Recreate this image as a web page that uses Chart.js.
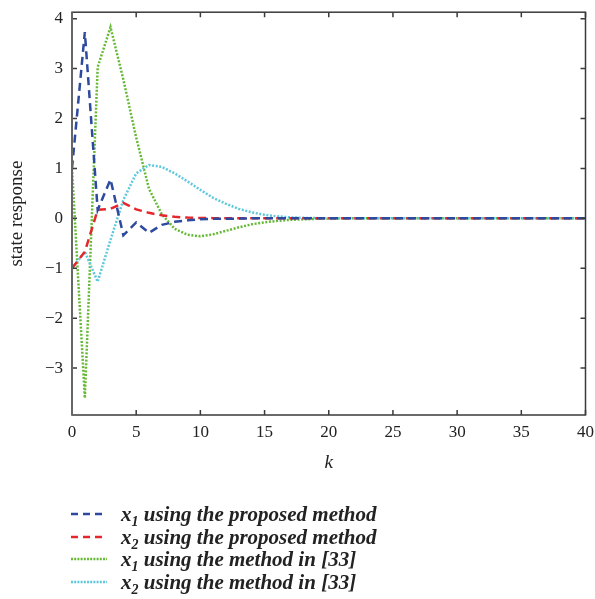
<!DOCTYPE html>
<html>
<head>
<meta charset="utf-8">
<script src="https://cdn.jsdelivr.net/npm/chart.js@4.4.1/dist/chart.umd.min.js"></script>
<style>
  html, body { margin: 0; padding: 0; background: #fff; width: 595px; height: 599px; overflow: hidden; }
  #c { position: absolute; left: 0; top: -7px; }
  #legend { position: absolute; left: 0; top: 0; width: 595px; height: 599px; pointer-events: none; }
  .row { position: absolute; left: 0; height: 24px; width: 595px; }
  .row svg { position: absolute; left: 70px; top: 0; }
  .row span { position: absolute; left: 121px; top: 0; line-height: 24px;
    font-family: "Liberation Serif", "DejaVu Serif", serif; font-style: italic; font-weight: bold;
    font-size: 21px; color: #222; white-space: nowrap; }
  .row sub { font-size: 14px; vertical-align: -5px; line-height: 0; }
</style>
</head>
<body>
<canvas id="c" width="601" height="487"></canvas>
<div id="legend"></div>
<script>
// ---- data ----
const K = Array.from({length: 41}, (_, i) => i);
const x1Proposed = [1.0, 3.73, 0.17, 0.78, -0.34, -0.08, -0.29, -0.13, -0.07, -0.04, -0.02, -0.01, -0.01, -0.005, 0, 0, 0, 0, 0, 0, 0, 0, 0, 0, 0, 0, 0, 0, 0, 0, 0, 0, 0, 0, 0, 0, 0, 0, 0, 0, 0];
const x2Proposed = [-1.0, -0.67, 0.17, 0.19, 0.31, 0.18, 0.11, 0.06, 0.03, 0.015, 0.008, 0.004, 0.002, 0, 0, 0, 0, 0, 0, 0, 0, 0, 0, 0, 0, 0, 0, 0, 0, 0, 0, 0, 0, 0, 0, 0, 0, 0, 0, 0, 0];
const x1Method33 = [1.0, -3.6, 3.03, 3.83, 2.78, 1.62, 0.59, 0.08, -0.21, -0.33, -0.36, -0.32, -0.25, -0.18, -0.12, -0.08, -0.05, -0.03, -0.02, -0.01, -0.005, 0, 0, 0, 0, 0, 0, 0, 0, 0, 0, 0, 0, 0, 0, 0, 0, 0, 0, 0, 0];
const x2Method33 = [-1.0, -0.67, -1.27, -0.43, 0.37, 0.9, 1.07, 1.03, 0.9, 0.74, 0.57, 0.41, 0.29, 0.19, 0.12, 0.07, 0.04, 0.02, 0.01, 0.005, 0, 0, 0, 0, 0, 0, 0, 0, 0, 0, 0, 0, 0, 0, 0, 0, 0, 0, 0, 0, 0];
const xTicks = [0, 5, 10, 15, 20, 25, 30, 35, 40];
const yTicks = [-3, -2, -1, 0, 1, 2, 3, 4];
const seriesLabels = ["x1 using the proposed method", "x2 using the proposed method", "x1 using the method in [33]", "x2 using the method in [33]"];

const COLORS = { blue: '#2d4a9e', red: '#e5262c', green: '#66b935', cyan: '#5ec8dc' };
const SERIF = '"Liberation Serif", "DejaVu Serif", serif';

function pts(arr) { return K.map((k, i) => ({ x: k, y: arr[i] })); }

const framePlugin = {
  id: 'frame',
  afterDatasetsDraw(chart) {
    const { ctx, chartArea: a, scales: { x, y } } = chart;
    ctx.save();
    ctx.strokeStyle = '#3a3a3a';
    ctx.lineWidth = 1.5;
    ctx.strokeRect(a.left, a.top, a.right - a.left, a.bottom - a.top);
    ctx.beginPath();
    x.ticks.forEach(t => {
      const px = x.getPixelForValue(t.value);
      ctx.moveTo(px, a.bottom); ctx.lineTo(px, a.bottom - 5);
      ctx.moveTo(px, a.top); ctx.lineTo(px, a.top + 5);
    });
    y.ticks.forEach(t => {
      const py = y.getPixelForValue(t.value);
      ctx.moveTo(a.left, py); ctx.lineTo(a.left + 5, py);
      ctx.moveTo(a.right, py); ctx.lineTo(a.right - 5, py);
    });
    ctx.stroke();
    ctx.strokeStyle = '#666';
    ctx.lineWidth = 2;
    ctx.beginPath(); ctx.moveTo(a.left, a.top); ctx.lineTo(a.left, a.bottom); ctx.stroke();
    ctx.restore();
  }
};

new Chart(document.getElementById('c'), {
  type: 'line',
  data: {
    datasets: [
      { label: seriesLabels[0], data: pts(x1Proposed), borderColor: COLORS.blue, borderWidth: 2.5, borderDash: [8, 5], pointRadius: 0, order: 1 },
      { label: seriesLabels[1], data: pts(x2Proposed), borderColor: COLORS.red, borderWidth: 2.5, borderDash: [8, 5], pointRadius: 0, order: 2 },
      { label: seriesLabels[2], data: pts(x1Method33), borderColor: COLORS.green, borderWidth: 2.5, borderDash: [2, 1.6], pointRadius: 0, order: 4 },
      { label: seriesLabels[3], data: pts(x2Method33), borderColor: COLORS.cyan, borderWidth: 2.5, borderDash: [2, 1.6], pointRadius: 0, order: 3 }
    ]
  },
  options: {
    responsive: false,
    animation: false,
    devicePixelRatio: 1,
    layout: { padding: { top: 4, right: 4, left: 0, bottom: 0 } },
    plugins: { legend: { display: false }, tooltip: { enabled: false } },
    scales: {
      x: {
        type: 'linear', min: 0, max: 40,
        afterBuildTicks(s) { s.ticks = xTicks.map(v => ({ value: v })); },
        ticks: { font: { family: SERIF, size: 17 }, color: '#222', padding: 7, maxRotation: 0, autoSkip: false },
        grid: { display: false, drawTicks: false },
        border: { display: false },
        title: { display: true, text: 'k', color: '#222', font: { family: SERIF, size: 19, style: 'italic' }, padding: { top: 0, bottom: 6 } },
        afterFit(s) { s.height = 65; }
      },
      y: {
        type: 'linear', min: -3.94, max: 4.13,
        afterBuildTicks(s) { s.ticks = yTicks.map(v => ({ value: v })); },
        ticks: { font: { family: SERIF, size: 17 }, color: '#222', padding: 9, autoSkip: false,
                 callback: v => String(v).replace('-', '\u2212') },
        grid: { display: false, drawTicks: false },
        border: { display: false },
        title: { display: true, text: 'state response', color: '#222', font: { family: SERIF, size: 19 }, padding: { top: 6, bottom: 0 } },
        afterFit(s) { s.width = 72; }
      }
    }
  },
  plugins: [framePlugin]
});

// ---- legend (HTML, real text) ----
const legendDefs = [
  { color: COLORS.blue, dash: '7 5', sym: 'x', sub: '1', text: ' using the proposed method' },
  { color: COLORS.red, dash: '7 5', sym: 'x', sub: '2', text: ' using the proposed method' },
  { color: COLORS.green, dash: '2 1.2', sym: 'x', sub: '1', text: ' using the method in [33]' },
  { color: COLORS.cyan, dash: '2 1.2', sym: 'x', sub: '2', text: ' using the method in [33]' }
];
const rowTops = [502, 524.5, 547, 569.5];
const lg = document.getElementById('legend');
legendDefs.forEach((d, i) => {
  const row = document.createElement('div');
  row.className = 'row';
  row.style.top = rowTops[i] + 'px';
  row.innerHTML =
    '<svg width="40" height="24"><line x1="1" y1="12" x2="37" y2="12" stroke="' + d.color +
    '" stroke-width="2.5" stroke-dasharray="' + d.dash + '"/></svg>' +
    '<span>' + d.sym + '<sub>' + d.sub + '</sub>' + d.text + '</span>';
  lg.appendChild(row);
});
</script>
</body>
</html>
